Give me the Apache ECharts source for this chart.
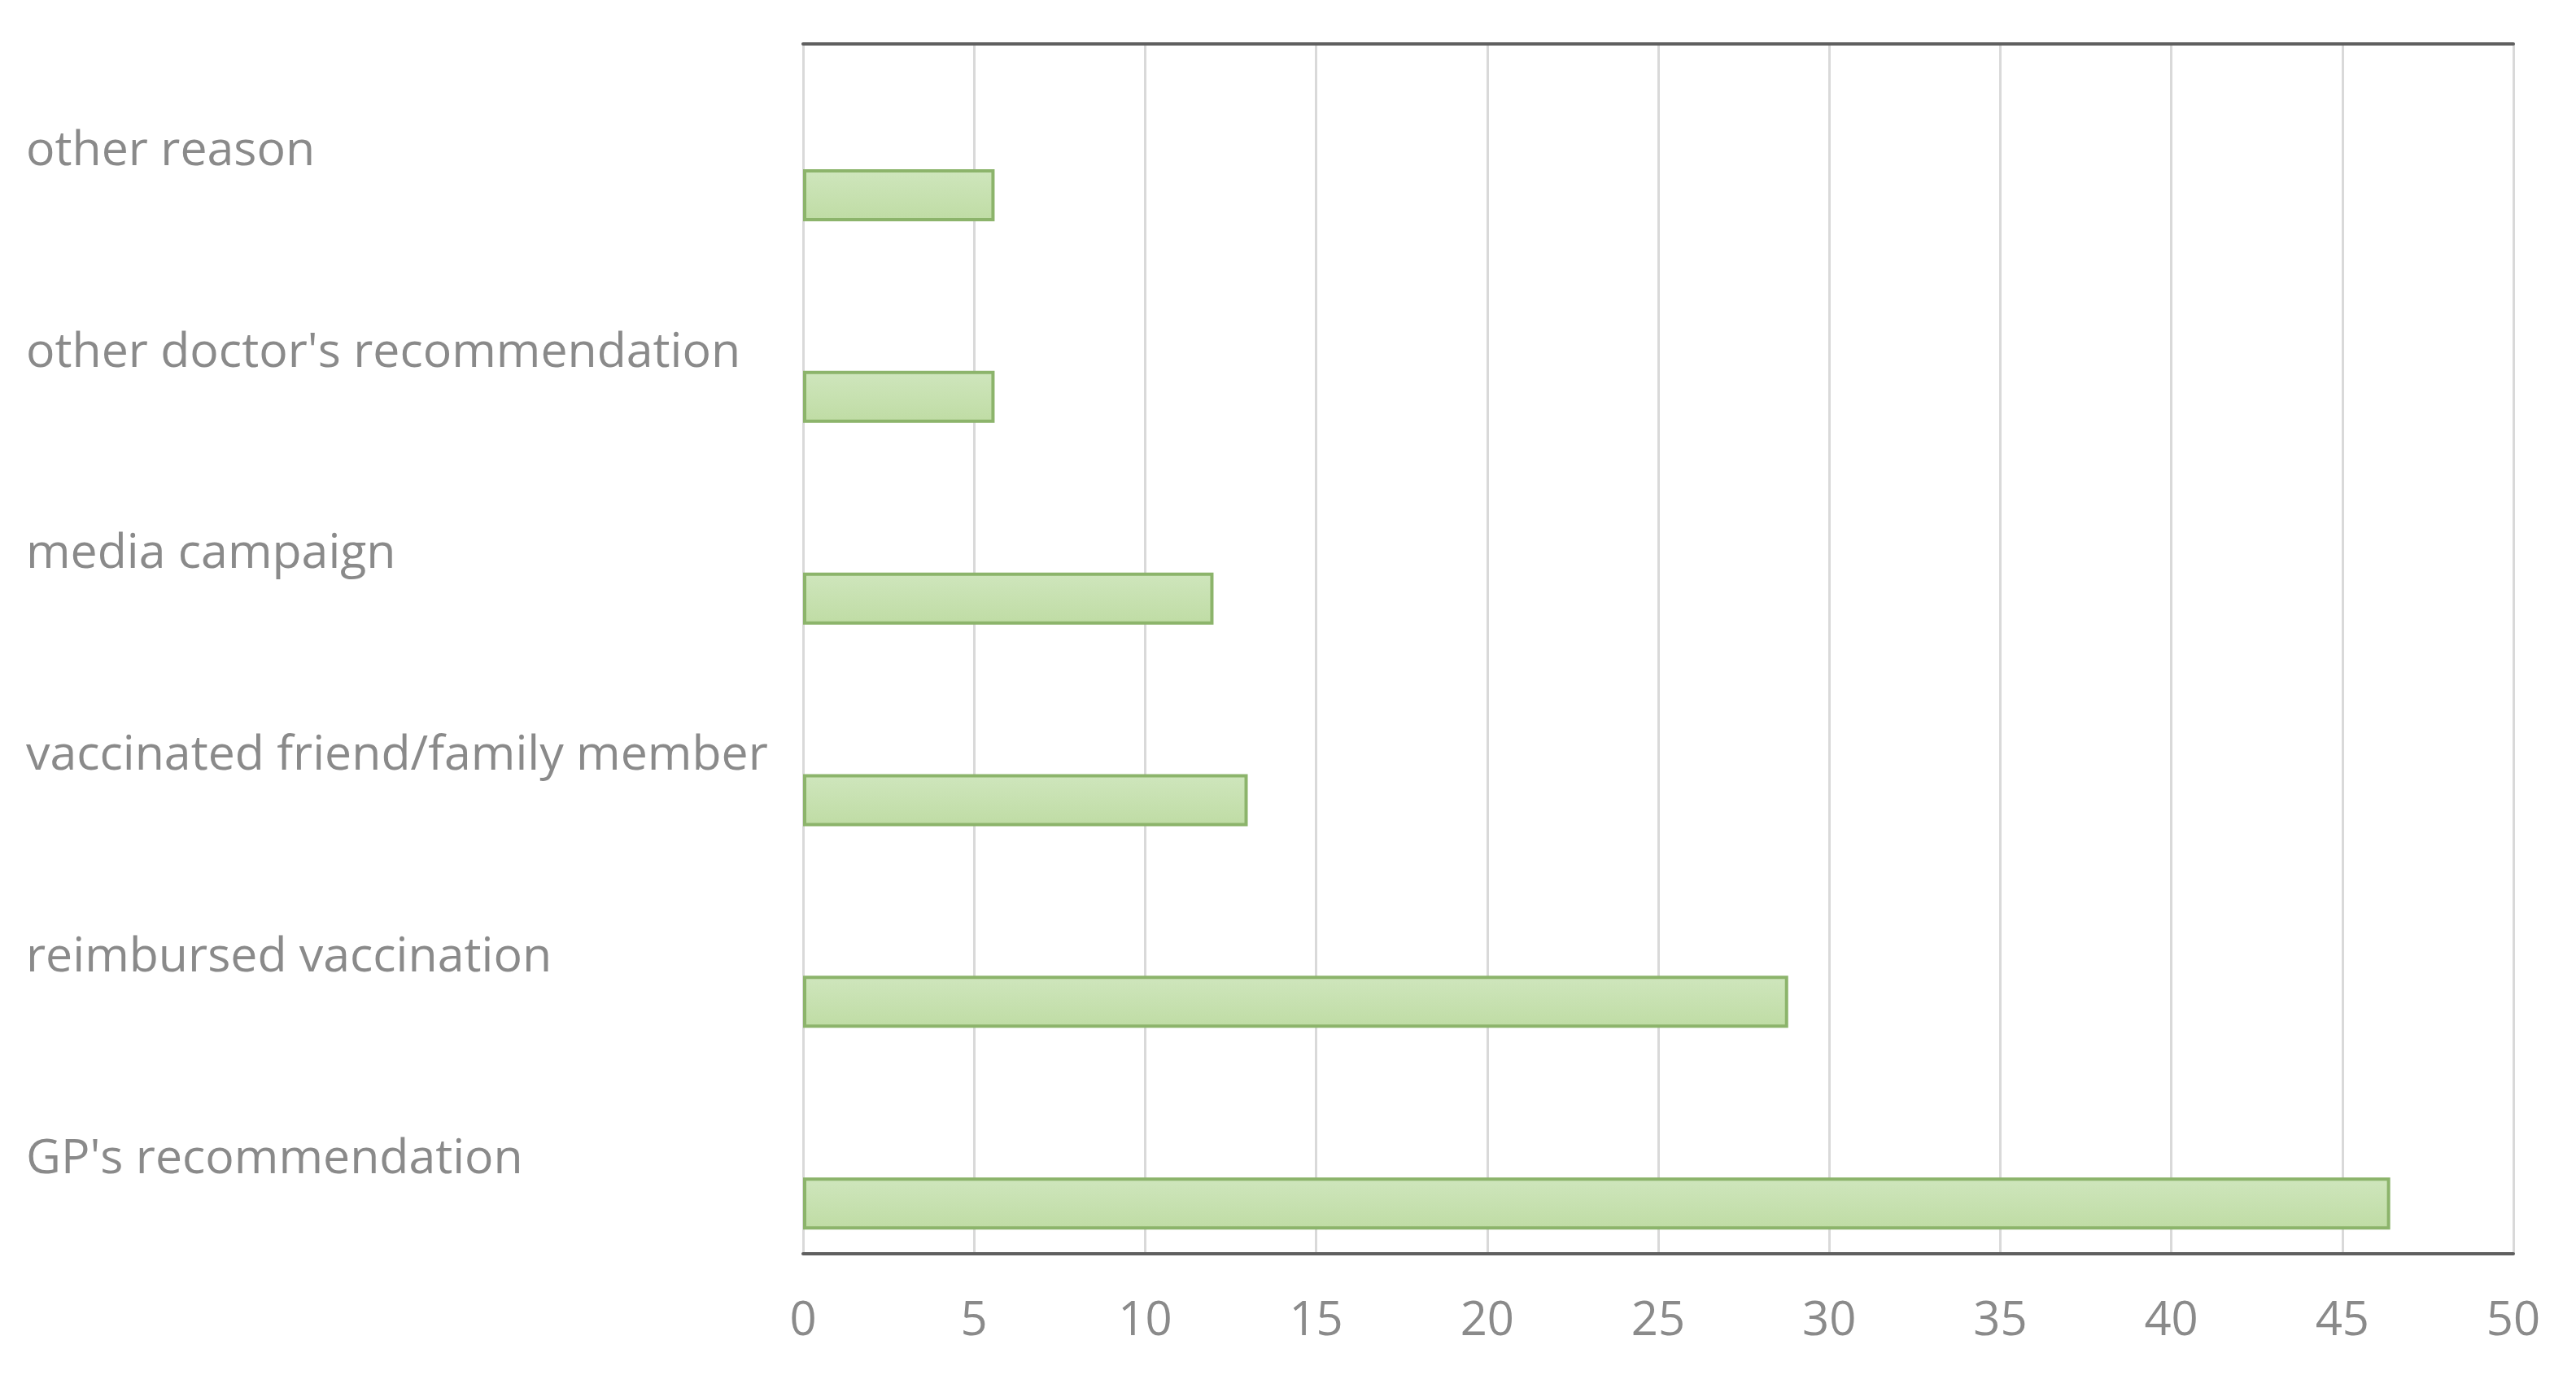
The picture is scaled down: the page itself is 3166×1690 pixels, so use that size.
<!DOCTYPE html>
<html>
<head>
<meta charset="utf-8">
<script src="https://cdn.jsdelivr.net/npm/echarts@6/dist/echarts.min.js"></script>
<style>
  html, body { margin: 0; padding: 0; background: #fff; }
  #main { width: 3166px; height: 1690px; }
</style>
</head>
<body>
<div id="main"></div>
<script>
// categories listed bottom to top (value axis grows upward)
var categories = [
  "GP's recommendation",
  'reimbursed vaccination',
  'vaccinated friend/family member',
  'media campaign',
  "other doctor's recommendation",
  'other reason'
];
var values = [46.4, 28.8, 13.0, 12.0, 5.6, 5.6];
// empty series that takes the upper slot of each group
var spacerValues = [null, null, null, null, null, null];
var xTicks = [0, 5, 10, 15, 20, 25, 30, 35, 40, 45, 50];

var chart = echarts.init(document.getElementById('main'), null, { renderer: 'canvas' });

var option = {
  animation: false,
  backgroundColor: '#ffffff',
  grid: {
    left: 987,
    right: 77,
    top: 54,
    bottom: 149
  },
  xAxis: [{
    type: 'value',
    position: 'bottom',
    min: xTicks[0],
    max: xTicks[xTicks.length - 1],
    interval: 5,
    axisLine: {
      show: true,
      lineStyle: { color: '#5f5f5f', width: 4 }
    },
    axisTick: { show: false },
    axisLabel: {
      color: '#8a8a8a',
      fontSize: 58,
      fontFamily: 'Open Sans',
      margin: 54
    },
    splitLine: {
      show: true,
      lineStyle: { color: '#d9d9d9', width: 3 }
    }
  }, {
    type: 'value',
    position: 'top',
    min: xTicks[0],
    max: xTicks[xTicks.length - 1],
    interval: 5,
    axisLine: {
      show: true,
      lineStyle: { color: '#5f5f5f', width: 4 }
    },
    axisTick: { show: false },
    axisLabel: { show: false },
    splitLine: { show: false }
  }],
  yAxis: {
    type: 'category',
    data: categories,
    axisLine: { show: false },
    axisTick: { show: false },
    axisLabel: {
      align: 'left',
      verticalAlign: 'top',
      lineHeight: 16,
      margin: 955,
      color: '#8a8a8a',
      fontSize: 59,
      fontFamily: 'Open Sans'
    }
  },
  series: [{
    name: 'spacer',
    type: 'bar',
    barWidth: 64,
    barGap: '94%',
    data: spacerValues,
    silent: true
  }, {
    name: 'share',
    type: 'bar',
    barWidth: 64,
    barGap: '94%',
    data: values,
    itemStyle: {
      color: {
        type: 'linear',
        x: 0, y: 0, x2: 0, y2: 1,
        colorStops: [
          { offset: 0, color: '#cfe6bd' },
          { offset: 1, color: '#bfdca4' }
        ]
      },
      borderColor: '#8cb46b',
      borderWidth: 4
    }
  }]
};

chart.setOption(option);
</script>
</body>
</html>
